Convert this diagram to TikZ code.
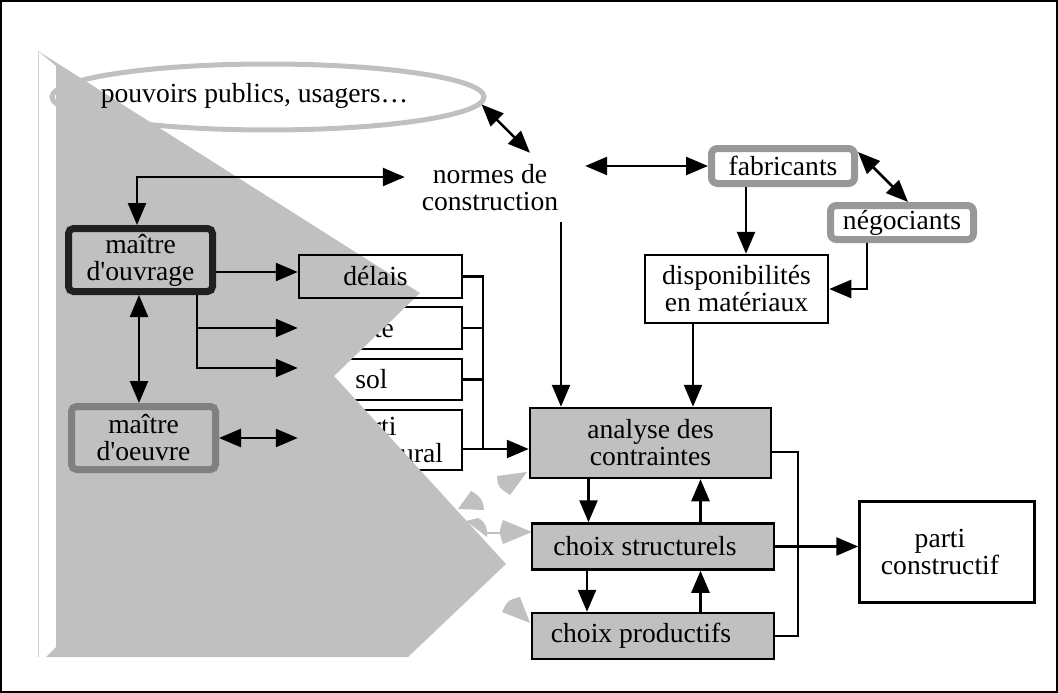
\documentclass[tikz,border=0pt]{standalone}
\usepackage{fontspec}
\setmainfont{Liberation Serif}[Ligatures=TeXOff]
\usetikzlibrary{arrows.meta,shapes.geometric}
\definecolor{lg}{RGB}{192,192,192}
\definecolor{mg}{RGB}{152,152,152}
\definecolor{dg}{RGB}{128,128,128}
\definecolor{bk}{RGB}{32,32,32}
\definecolor{thinln}{RGB}{208,208,208}
\newcommand\fsz{\fontsize{27.6pt}{27pt}\selectfont}
\tikzset{
  txt/.style={font=\fsz, inner sep=0pt, align=center},
  box/.style={draw=black, line width=2.5pt, inner sep=0pt, font=\fsz, align=center},
  gbox/.style={draw=mg, fill=white, line width=7pt, rounded corners=6pt, inner sep=0pt, font=\fsz},
  mobox/.style={draw=bk, fill=lg, line width=7pt, rounded corners=5pt, inner sep=0pt, font=\fsz, align=center, minimum width=144pt, minimum height=63pt},
  moebox/.style={draw=dg, fill=lg, line width=7pt, rounded corners=5pt, inner sep=0pt, font=\fsz, align=center, minimum width=144pt, minimum height=63pt},
  ln/.style={draw=black, line width=2.5pt},
  arr/.style={ln, -{Triangle[length=22pt,width=18pt]}},
  dbl/.style={ln, {Triangle[length=22pt,width=18pt]}-{Triangle[length=22pt,width=18pt]}}
}
\begin{document}
\begin{tikzpicture}[x=1pt,y=-1pt]
\useasboundingbox (0,0) rectangle (1058,693);
\draw[line width=1.5pt] (1,1) rectangle (1057,692);

% boxes partly hidden under the grey shape
\node[box, minimum width=163pt, minimum height=42pt] (date) at (380.5,328) {date\hspace{19pt}};
\node[box, minimum width=163pt, minimum height=41pt] (sol) at (380.5,379.5) {sol\hspace{18pt}};
\node[box, minimum width=163pt, minimum height=60pt, align=left] (par) at (380.5,440) {\hspace*{28pt}parti\\\hspace*{21pt}structural};

% grey shape
\fill[lg] (38,51) -- (420,293) -- (334,376) -- (506,564) -- (408,657) -- (46,657) -- (56,647) -- (56,66) -- cycle;
\draw[thinln, line width=1pt] (38,51) -- (38,657);

% grey fragments
\fill[lg] (527,472) -- (497,476) .. controls (498,487) .. (510,495) -- cycle;
\fill[lg] (458,509) -- (471,491) .. controls (481,496) and (484,503) .. (484,510) -- cycle;
\fill[lg] (466,521) -- (478,518) .. controls (486,522) and (488,530) .. (487,537) -- cycle;
\draw[lg, line width=2pt] (487,533) -- (502,533);
\fill[lg] (532,532) -- (503,520) .. controls (499,532) .. (503,544) -- cycle;
\fill[lg] (530,623) -- (520,597) .. controls (508,600) .. (502,612) -- cycle;

% nodes
\node[ellipse, draw=lg, line width=5pt, minimum width=432pt, minimum height=66pt, inner sep=0pt] (pub) at (268,97) {};
\node[txt] (pubt) at (254.5,95.5) {pouvoirs publics, usagers…};
\node[txt, minimum width=180pt, minimum height=69pt] (normes) at (495,187.5) {normes de\hspace*{10pt}\\construction\hspace*{10pt}};
\node[box, minimum width=163pt, minimum height=43pt] (delais) at (380.5,276.5) {délais\hspace{10pt}};
\node[mobox] (mo) at (140.5,260) {maître\\d'ouvrage};
\node[moebox] (moe) at (143.5,438) {maître\\d'oeuvre};
\node[gbox, minimum width=143pt, minimum height=35pt] (fab) at (783,166) {fabricants};
\node[gbox, minimum width=143pt, minimum height=34pt] (neg) at (902,222.5) {négociants};
\node[box, minimum width=183pt, minimum height=68pt] (dispo) at (736.5,289) {disponibilités\\en matériaux};
\node[box, fill=lg, minimum width=241pt, minimum height=70pt] (ana) at (650.5,443) {analyse des\\contraintes};
\node[box, fill=lg, minimum width=242pt, minimum height=46pt] (cs) at (653,546.5) {choix structurels\hspace{16pt}};
\node[box, fill=lg, minimum width=242pt, minimum height=46pt] (cp) at (653,636) {choix productifs\hspace{24pt}};
\node[box, minimum width=175pt, minimum height=101pt] (pc) at (947,552) {parti\hspace*{14pt}\\constructif\hspace*{14pt}};

% connectors
\draw[dbl] (pub.-2) -- ([xshift=35pt]normes.north);
\draw[dbl] ([yshift=10.5pt]normes.west) -| ([xshift=-3.5pt]mo.north);
\draw[dbl] (normes.east |- fab.west) -- (fab.west);
\coordinate (n1) at ([xshift=66pt]normes.south);
\draw[arr] (n1) -- (n1 |- ana.north);
\draw[dbl] ([yshift=14pt]fab.east) -- ([xshift=6pt]neg.north);
\coordinate (f1) at ([xshift=-37pt]fab.south);
\draw[arr] (f1) -- (f1 |- dispo.north);
\draw[arr] ([xshift=-35pt]neg.south) |- (dispo.east);
\coordinate (d1) at ([xshift=-43.5pt]dispo.south);
\draw[arr] (d1) -- (d1 |- ana.north);

\coordinate (dIn) at ([yshift=4.5pt]delais.west);
\draw[arr] (mo.east |- dIn) -- (dIn);
\coordinate (b0) at ([xshift=56.5pt]mo.south);
\draw[arr] (b0) |- (date.west);
\coordinate (sIn) at ([yshift=11.5pt]sol.west);
\draw[arr] (b0) |- (sIn);
\coordinate (m1) at ([xshift=-1.5pt]mo.south);
\draw[dbl] (m1) -- (m1 |- moe.north);
\draw[dbl] (moe.east) -- (moe.east -| par.west);

\coordinate (aIn) at ([yshift=-6pt]ana.west);
\coordinate (bus) at (483,300);
\draw[ln] (delais.east) -| (bus |- aIn);
\draw[ln] (date.east) -- (date.east -| bus);
\draw[ln] (sol.east) -- (sol.east -| bus);
\draw[arr] (par.east |- aIn) -- (aIn);

\coordinate (a1) at ([xshift=-62pt]ana.south);
\draw[arr] (a1) -- (a1 |- cs.north);
\coordinate (a2) at ([xshift=50pt]ana.south);
\draw[arr] (a2 |- cs.north) -- (a2);
\coordinate (c1) at ([xshift=-66pt]cs.south);
\draw[arr] (c1) -- (c1 |- cp.north);
\coordinate (c2) at ([xshift=47.5pt]cs.south);
\draw[arr] (c2 |- cp.north) -- (c2);
\coordinate (r1) at ([yshift=-9pt]ana.east);
\coordinate (bx) at (798,500);
\draw[ln] (r1) -- (r1 -| bx) |- (cp.east);
\draw[arr] (cs.east) -- (cs.east -| pc.west);
\end{tikzpicture}
\end{document}
